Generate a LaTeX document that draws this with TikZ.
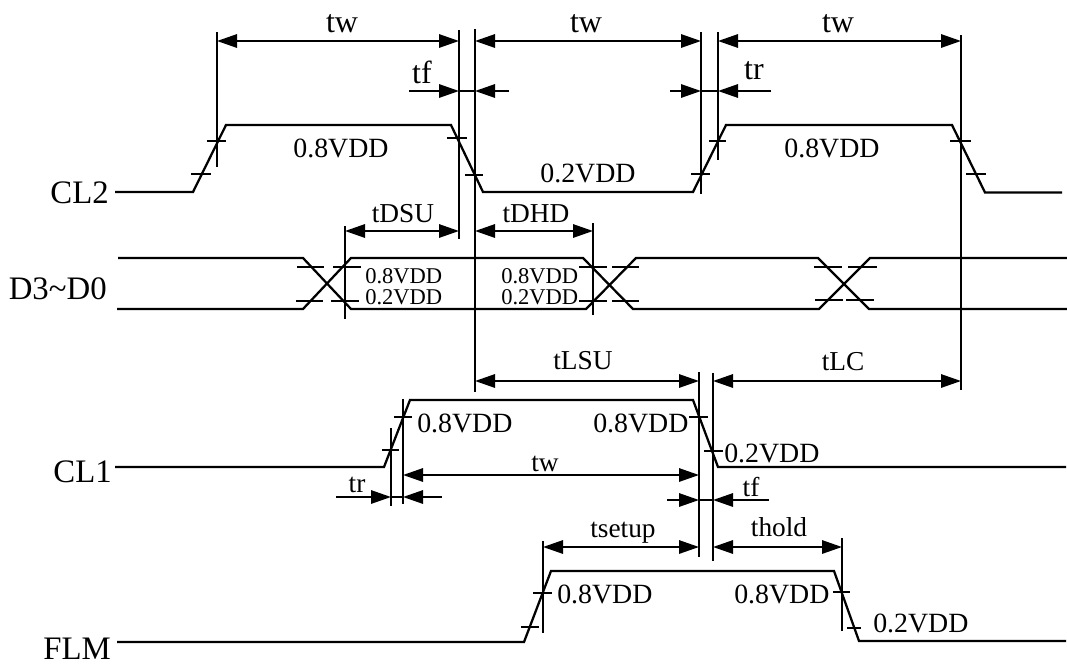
\documentclass[tikz,border=0pt]{standalone}
\usepackage{fontspec}
\setmainfont{Liberation Serif}
\usetikzlibrary{arrows.meta}

\tikzset{
  sigline/.style={line width=1.7pt, line join=miter},
  tickline/.style={line width=1.4pt},
  extline/.style={line width=1.5pt},
  dimboth/.style={line width=1.5pt, {Triangle[length=15pt, width=10pt]}-{Triangle[length=15pt, width=10pt]}},
  dimto/.style={line width=1.5pt, -{Triangle[length=15pt, width=10pt]}},
  siglabel/.style={anchor=base, inner sep=0pt, font=\fontsize{24.6}{24.6}\selectfont},
  biglabel/.style={anchor=base, inner sep=0pt, font=\fontsize{24}{24}\selectfont},
  vddlabel/.style={anchor=base, inner sep=0pt, font=\fontsize{20.9}{20.9}\selectfont},
  dimlabel/.style={anchor=base, inner sep=0pt, font=\fontsize{20.5}{20.5}\selectfont},
  smalllabel/.style={anchor=base west, inner sep=0pt, font=\fontsize{16.9}{16.9}\selectfont},
}

\begin{document}
\begin{tikzpicture}[x=0.75pt, y=-0.75pt]
  \useasboundingbox (0, 0) rectangle (1067, 664);

  % marker positions
  \coordinate (mA) at (217, 0);
  \coordinate (mB) at (459, 0);
  \coordinate (mC) at (475, 0);
  \coordinate (mD) at (701, 0);
  \coordinate (mE) at (718, 0);
  \coordinate (mF) at (961, 0);
  \coordinate (mG) at (345, 0);
  \coordinate (mH) at (593, 0);
  \coordinate (mI) at (391, 0);
  \coordinate (mJ) at (403, 0);
  \coordinate (mK) at (699, 0);
  \coordinate (mL) at (713, 0);
  \coordinate (mM) at (543, 0);
  \coordinate (mN) at (842, 0);

  % waveforms
  \draw [sigline] (115, 192) -- (193, 192) -- (226, 125) -- (451, 125) -- (483, 192) -- (693, 192) -- (726, 125) -- (952, 125) -- (985, 192.5) -- (1062, 192.5);
  \draw [sigline] (118, 258) -- (303, 258) -- (351, 309) -- (586, 309) -- (636, 258) -- (818, 258) -- (869, 309) -- (1067, 309);
  \draw [sigline] (117, 309) -- (303, 309) -- (351, 258) -- (583, 258) -- (633, 309) -- (819, 309) -- (870, 258) -- (1067, 258);
  \draw [sigline] (115, 467) -- (384, 467) -- (410, 400) -- (693, 400) -- (718, 467) -- (1066, 467);
  \draw [sigline] (117, 642) -- (524, 642) -- (551, 571) -- (834, 571) -- (859, 641) -- (1066, 641);

  % level ticks
  \draw [tickline] (207, 141) -- (226, 141) (191, 174) -- (211, 174) (447, 138) -- (467, 138) (465, 175) -- (483, 175);
  \draw [tickline] (691, 174) -- (710, 174) (709, 141) -- (726, 141) (950, 141) -- (971, 141) (966, 174) -- (986, 174);
  \draw [tickline] (297, 267) -- (324, 267) (333, 267) -- (361, 267) (296, 301) -- (323, 301) (331, 301) -- (359, 301);
  \draw [tickline] (579, 267) -- (607, 267) (612, 267) -- (639, 267) (579, 301) -- (607, 301) (612, 301) -- (639, 301);
  \draw [tickline] (814, 267) -- (842, 267) (848, 267) -- (877, 267) (815, 300) -- (843, 300) (846, 300) -- (874, 300);
  \draw [tickline] (394, 417) -- (412, 417) (382, 450) -- (399, 450) (689, 417) -- (708, 417) (704, 451) -- (723, 451);
  \draw [tickline] (533, 593) -- (552, 593) (521, 627) -- (539, 627) (833, 592) -- (850, 592) (847, 628) -- (861, 628);

  % extension lines
  \draw [extline] (mA |- 0, 32) -- (mA |- 0, 167);
  \draw [extline] (mB |- 0, 30) -- (mB |- 0, 239);
  \draw [extline] (mC |- 0, 29) -- (mC |- 0, 392);
  \draw [extline] (mD |- 0, 32) -- (mD |- 0, 194);
  \draw [extline] (mE |- 0, 32) -- (mE |- 0, 160);
  \draw [extline] (mF |- 0, 35) -- (mF |- 0, 390);
  \draw [extline] (mG |- 0, 226) -- (mG |- 0, 319);
  \draw [extline] (mH |- 0, 223) -- (mH |- 0, 315);
  \draw [extline] (mI |- 0, 428) -- (mI |- 0, 506);
  \draw [extline] (mJ |- 0, 399) -- (mJ |- 0, 504);
  \draw [extline] (mK |- 0, 372) -- (mK |- 0, 557);
  \draw [extline] (mL |- 0, 373) -- (mL |- 0, 561);
  \draw [extline] (mM |- 0, 541) -- (mM |- 0, 633);
  \draw [extline] (mN |- 0, 538) -- (mN |- 0, 631);

  % dimension arrows
  \draw [dimboth] (mA |- 0, 41) -- (mB |- 0, 41);
  \draw [dimboth] (mC |- 0, 41) -- (mD |- 0, 41);
  \draw [dimboth] (mE |- 0, 41) -- (mF |- 0, 41);
  \draw [dimto] (409, 91) -- (mB |- 0, 91);
  \draw [dimto] (509, 91) -- (mC |- 0, 91);
  \draw [extline] (mB |- 0, 91) -- (mC |- 0, 91);
  \draw [dimto] (670, 91) -- (mD |- 0, 91);
  \draw [dimto] (771, 91) -- (mE |- 0, 91);
  \draw [extline] (mD |- 0, 91) -- (mE |- 0, 91);
  \draw [dimboth] (mG |- 0, 231) -- (mB |- 0, 231);
  \draw [dimboth] (mC |- 0, 231) -- (mH |- 0, 231);
  \draw [dimboth] (mC |- 0, 381) -- (mK |- 0, 381);
  \draw [dimboth] (mL |- 0, 381) -- (mF |- 0, 381);
  \draw [dimboth] (mJ |- 0, 475) -- (mK |- 0, 475);
  \draw [dimto] (336, 497) -- (mI |- 0, 497);
  \draw [dimto] (442, 497) -- (mJ |- 0, 497);
  \draw [extline] (mI |- 0, 497) -- (mJ |- 0, 497);
  \draw [dimto] (667, 500) -- (mK |- 0, 500);
  \draw [dimto] (769, 500) -- (mL |- 0, 500);
  \draw [extline] (mK |- 0, 500) -- (mL |- 0, 500);
  \draw [dimboth] (mM |- 0, 547) -- (mK |- 0, 547);
  \draw [dimboth] (mL |- 0, 547) -- (mN |- 0, 547);

  % signal names
  \node [siglabel, anchor=base east] (cltwo) at (109, 203) {CL2};
  \node [siglabel, anchor=base east] (data) at (107, 299) {D3\char"7E D0};
  \node [siglabel, anchor=base east] (clone) at (112, 482) {CL1};
  \node [siglabel, anchor=base east] (flm) at (111, 659) {FLM};

  % top row
  \node [biglabel] (twa) at (342, 32) {tw};
  \node [biglabel] (twb) at (586, 32) {tw};
  \node [biglabel] (twc) at (838, 32) {tw};
  \node [biglabel] (tfa) at (422, 83) {tf};
  \node [biglabel] (tra) at (754, 79) {tr};
  \node [vddlabel] (higha) at (341, 157) {0.8VDD};
  \node [vddlabel] (lowa) at (588, 182) {0.2VDD};
  \node [vddlabel] (highb) at (832, 157) {0.8VDD};

  % data row
  \node [dimlabel] (tdsu) at (403, 222) {tDSU};
  \node [dimlabel] (tdhd) at (536, 222) {tDHD};
  \node [smalllabel] (highc) at (365, 283) {0.8VDD};
  \node [smalllabel] (lowc) at (365, 304) {0.2VDD};
  \node [smalllabel] (highd) at (501, 283) {0.8VDD};
  \node [smalllabel] (lowd) at (501, 304) {0.2VDD};

  % CL1 row
  \node [dimlabel] (tlsu) at (583, 369) {tLSU};
  \node [dimlabel] (tlc) at (843, 370) {tLC};
  \node [vddlabel, anchor=base west] (highe) at (417, 432) {0.8VDD};
  \node [vddlabel, anchor=base west] (highf) at (593, 432) {0.8VDD};
  \node [vddlabel, anchor=base west] (lowe) at (724, 462) {0.2VDD};
  \node [dimlabel] (twd) at (545, 471) {tw};
  \node [dimlabel] (trb) at (357, 492) {tr};
  \node [dimlabel] (tfb) at (751, 496) {tf};

  % FLM row
  \node [dimlabel] (tsetup) at (623, 537) {tsetup};
  \node [dimlabel] (thold) at (779, 536) {thold};
  \node [vddlabel, anchor=base west] (highg) at (557, 603) {0.8VDD};
  \node [vddlabel, anchor=base west] (highh) at (734, 603) {0.8VDD};
  \node [vddlabel, anchor=base west] (lowf) at (873, 632) {0.2VDD};
\end{tikzpicture}
\end{document}
